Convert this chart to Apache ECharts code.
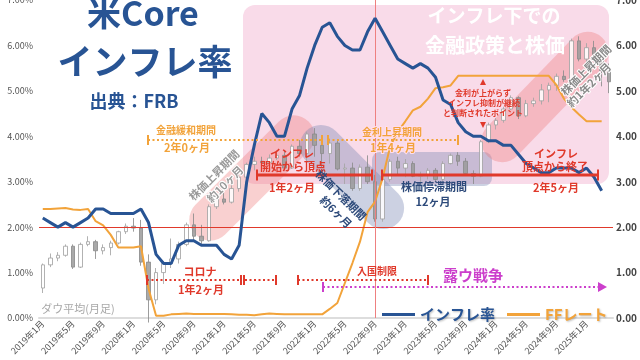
<!DOCTYPE html>
<html><head><meta charset="utf-8">
<script src="https://cdn.jsdelivr.net/npm/echarts@6/dist/echarts.min.js"></script>
<style>html,body{margin:0;padding:0;background:#fff}#c{width:640px;height:360px}</style>
</head><body><div id="c"></div>
<script>
// ---- categories (monthly, 2019年1月 .. 2025年4月) ----
const startYear = 2019, monthCount = 76;
const months = [];
for (let i = 0; i < monthCount; i++) {
  months.push((startYear + Math.floor(i / 12)) + '年' + (i % 12 + 1) + '月');
}
// ---- axis ticks ----
const yTicks = [0, 1, 2, 3, 4, 5, 6, 7];
// ---- US core inflation (%) ----
const inflation = [
  2.2, 2.1, 2.0, 2.1, 2.0, 2.1, 2.2, 2.4, 2.4, 2.3, 2.3, 2.3,
  2.3, 2.4, 2.1, 1.4, 1.2, 1.2, 1.6, 1.7, 1.7, 1.6, 1.6, 1.6,
  1.4, 1.3, 1.6, 3.0, 3.8, 4.5, 4.3, 4.0, 4.0, 4.6, 4.9, 5.5,
  6.0, 6.4, 6.5, 6.2, 6.0, 5.9, 5.9, 6.3, 6.6, 6.3, 6.0, 5.7,
  5.6, 5.5, 5.6, 5.5, 5.3, 4.8, 4.7, 4.3, 4.1, 4.0, 4.0, 3.9,
  3.9, 3.8, 3.8, 3.6, 3.4, 3.3, 3.2, 3.2, 3.3, 3.3, 3.3, 3.2,
  3.3, 3.1, 2.8
];
// ---- FF rate (%) ----
const ffRate = [
  2.40, 2.40, 2.41, 2.42, 2.39, 2.38, 2.40, 2.13, 2.04, 1.83, 1.55, 1.55,
  1.55, 1.58, 0.65, 0.05, 0.05, 0.08, 0.09, 0.10, 0.09, 0.09, 0.09, 0.09,
  0.09, 0.08, 0.07, 0.07, 0.06, 0.08, 0.10, 0.09, 0.08, 0.08, 0.08, 0.08,
  0.08, 0.08, 0.20, 0.33, 0.77, 1.21, 1.68, 2.33, 2.56, 3.08, 3.78, 4.10,
  4.33, 4.57, 4.65, 4.83, 5.06, 5.08, 5.12, 5.33, 5.33, 5.33, 5.33, 5.33,
  5.33, 5.33, 5.33, 5.33, 5.33, 5.33, 5.33, 5.33, 5.13, 4.83, 4.64, 4.48,
  4.33, 4.33, 4.33
];
// ---- Dow monthly candles, drawn on the chart's scale ----
const dowOpen = [
  0.66,1.17,1.32,1.38,1.58,1.12,1.62,1.68,1.48,1.55,1.65,1.90,
  2.02,1.98,1.23,0.40,1.00,1.20,1.30,1.62,2.05,1.80,1.70,2.45,
  2.62,2.55,2.85,3.10,3.38,3.45,3.42,3.52,3.58,3.30,3.78,3.62,
  4.05,3.80,3.62,3.85,3.28,3.30,2.85,3.32,3.00,2.18,3.05,3.45,
  3.30,3.40,3.12,3.15,3.25,3.05,3.40,3.58,3.45,3.18,3.12,3.88,
  4.25,4.35,4.60,4.85,4.45,4.72,4.78,5.02,5.12,5.32,5.25,6.10,
  5.70,5.95,5.80,5.45
];
const dowClose = [
  1.17,1.32,1.38,1.58,1.12,1.62,1.68,1.48,1.55,1.65,1.90,2.02,
  1.98,1.23,0.40,1.00,1.20,1.30,1.62,2.05,1.80,1.70,2.45,2.62,
  2.55,2.85,3.10,3.38,3.45,3.42,3.52,3.58,3.30,3.78,3.62,4.05,
  3.80,3.62,3.85,3.28,3.30,2.85,3.32,3.00,2.18,3.05,3.45,3.30,
  3.40,3.12,3.15,3.25,3.05,3.40,3.58,3.45,3.18,3.12,3.88,4.25,
  4.35,4.60,4.85,4.45,4.72,4.78,5.02,5.12,5.32,5.25,6.10,5.70,
  5.95,5.80,5.45,5.20
];
const dowLow = [
  0.55,1.12,1.25,1.35,1.08,1.10,1.58,1.30,1.40,1.38,1.62,1.85,
  1.90,1.15,-0.10,0.30,0.75,1.10,1.20,1.58,1.70,1.62,1.68,2.40,
  2.50,2.52,2.78,3.05,3.25,3.30,3.30,3.48,3.25,3.28,3.55,3.45,
  3.55,3.30,3.40,3.25,2.95,2.80,2.80,2.95,2.12,2.12,3.00,3.15,
  3.10,3.10,2.95,3.05,3.00,3.02,3.38,3.35,3.15,2.95,3.10,3.85,
  4.15,4.30,4.58,4.38,4.42,4.65,4.70,4.75,5.00,5.20,5.22,5.65,
  5.60,5.65,5.10,4.95
];
const dowHigh = [
  1.20,1.42,1.45,1.62,1.62,1.66,1.80,1.72,1.62,1.70,1.92,2.08,
  2.20,2.16,1.40,1.10,1.25,1.75,1.68,2.10,2.30,2.05,2.50,2.68,
  2.80,2.95,3.15,3.42,3.55,3.55,3.60,3.65,3.68,3.82,3.92,4.10,
  4.18,3.90,3.95,3.92,3.40,3.42,3.38,3.58,3.15,3.10,3.50,3.55,
  3.50,3.45,3.22,3.30,3.30,3.45,3.62,3.65,3.52,3.25,3.92,4.30,
  4.40,4.65,4.90,4.88,4.80,4.85,5.15,5.18,5.38,5.45,6.15,6.20,
  6.05,6.10,5.85,5.60
];

const F = '"Noto Sans CJK JP","Noto Sans",sans-serif';
const BLUE = '#285494', ORANGE = '#f2a33a', RED = '#e0392b', MAG = '#cc3fcc';

const candles = dowOpen.map((o, i) => [o, dowClose[i], dowLow[i], dowHigh[i]]);

function T(x, y, text, size, color, o) {
  o = o || {};
  return { type: 'text', x: x, y: y, rotation: (o.rot || 0) * Math.PI / 180, z: o.z || 100,
    style: { text: text, font: (o.weight || 'bold') + ' ' + size + 'px ' + F, fill: color,
      align: o.align || 'center', verticalAlign: 'middle',
      stroke: o.stroke || null, lineWidth: o.lw || 0,
      shadowColor: o.shadow || null, shadowBlur: o.blur || 0, shadowOffsetX: o.sx || 0, shadowOffsetY: o.sy || 0 } };
}
function L(x1, y1, x2, y2, color, w, dash, z) {
  return { type: 'line', z: z || 60, shape: { x1: x1, y1: y1, x2: x2, y2: y2 },
    style: { stroke: color, lineWidth: w, lineDash: dash || null } };
}
function band(cx, cy, len, w, rot, fill) {
  return { type: 'rect', x: cx, y: cy, rotation: rot * Math.PI / 180, z: 1,
    shape: { x: -len / 2, y: -w / 2, width: len, height: w, r: w / 2 }, style: { fill: fill } };
}
function cap(x, y, h, color, w) { return L(x, y - h / 2, x, y + h / 2, color, w, null, 61); }

const dots = [2, 2.5];
const graphics = [
  // pink region
  { type: 'rect', z: 0, shape: { x: 243, y: 5, width: 366, height: 179, r: 12 }, style: { fill: '#f9dbe9' } },
  // bands
  band(252, 178, 160, 42, 45, 'rgba(238,120,120,0.35)'),
  band(352, 177, 130, 42, -45, 'rgba(120,135,180,0.38)'),
  { type: 'rect', z: 1, shape: { x: 372, y: 152, width: 120, height: 34, r: 8 }, style: { fill: 'rgba(120,135,180,0.38)' } },
  band(545, 97, 165, 42, 46, 'rgba(238,120,120,0.35)'),

  // titles
  T(143, 13, '米Core', 34, BLUE),
  T(145, 62, 'インフレ率', 35, BLUE),
  T(134, 101, '出典：FRB', 18, BLUE),
  T(494, 16, 'インフレ下での', 19, '#ffffff', { shadow: 'rgba(0,0,0,0.75)', blur: 3, sx: 1, sy: 1 }),
  T(495, 45, '金融政策と株価', 20, '#ffffff', { shadow: 'rgba(0,0,0,0.75)', blur: 3, sx: 1, sy: 1 }),

  // band texts
  T(214, 175, '株価上昇期間', 11, '#9a9a9a', { rot: 45, stroke: '#fff', lw: 2 }),
  T(225, 184, '約10ヶ月', 11, '#9a9a9a', { rot: 45, stroke: '#fff', lw: 2 }),
  T(341, 195, '株価下落期間', 11, '#2d4a7a', { rot: -45 }),
  T(336, 212, '約6ヶ月', 11, '#2d4a7a', { rot: -45 }),
  T(434, 187, '株価停滞期間', 11, '#2d4a7a'),
  T(433, 202, '12ヶ月', 11, '#2d4a7a'),
  T(586, 70, '株価上昇期間', 11, '#8a8a8a', { rot: 45, stroke: '#fff', lw: 2 }),
  T(589, 85, '約1年2ヶ月', 11, '#8a8a8a', { rot: 45, stroke: '#fff', lw: 2 }),

  // orange dotted periods
  L(148, 140, 322, 140, ORANGE, 2, dots), cap(148, 140, 10, ORANGE, 2), cap(322, 140, 10, ORANGE, 2),
  L(328, 140, 458, 140, ORANGE, 2, dots), cap(328, 140, 10, ORANGE, 2), cap(458, 140, 10, ORANGE, 2),
  T(186, 130, '金融緩和期間', 10, ORANGE, { stroke: '#fff', lw: 2 }),
  T(187, 148, '2年0ヶ月', 11, ORANGE, { stroke: '#fff', lw: 2 }),
  T(392, 132, '金利上昇期間', 10, ORANGE, { stroke: '#fde', lw: 2 }),
  T(393, 148, '1年4ヶ月', 11, ORANGE, { stroke: '#fde', lw: 2 }),

  // red inflation periods
  L(257, 175, 372, 175, RED, 3), cap(257, 175, 11, RED, 2), cap(372, 175, 11, RED, 2),
  L(382, 175, 598, 175, RED, 3), cap(382, 175, 11, RED, 2), cap(598, 175, 11, RED, 2),
  T(292, 154, 'インフレ', 11, RED),
  T(293, 167, '開始から頂点', 11, RED),
  T(292, 188, '1年2ヶ月', 11, RED),
  T(556, 154, 'インフレ', 11, RED),
  T(555, 167, '頂点から終了', 11, RED),
  T(556, 188, '2年5ヶ月', 11, RED),

  // annotation point
  { type: 'polygon', z: 100, shape: { points: [[480, 85], [486, 85], [483, 79]] }, style: { fill: RED } },
  { type: 'polygon', z: 100, shape: { points: [[480, 122], [486, 122], [483, 128]] }, style: { fill: RED } },
  T(483, 93, '金利が上がらず', 8, RED),
  T(484, 103, 'インフレ抑制が継続', 8, RED),
  T(483, 113, 'と判断されたポイント', 8, RED),

  // covid / restrictions
  L(147, 280, 242, 280, RED, 2, dots), cap(147, 280, 10, RED, 2), cap(241, 280, 10, RED, 2), cap(244, 280, 10, RED, 2),
  L(245, 280, 276, 280, RED, 2, dots), cap(276, 280, 10, RED, 2),
  L(298, 280, 428, 280, RED, 2, dots), cap(298, 280, 10, RED, 2), cap(428, 280, 10, RED, 2),
  T(200, 272, 'コロナ', 11, RED),
  T(201, 290, '1年2ヶ月', 11, RED),
  T(377, 271, '入国制限', 10, RED),

  // war arrow
  L(323, 287, 601, 287, MAG, 2, dots), cap(323, 287, 10, MAG, 2),
  { type: 'polygon', z: 100, shape: { points: [[598, 282], [607, 287], [598, 292]] }, style: { fill: MAG } },
  T(473, 275, '露ウ戦争', 15, MAG),

  T(78, 309, 'ダウ平均(月足)', 11, '#a8a8a8', { weight: 'normal' })
];

const chart = echarts.init(document.getElementById('c'), null, { renderer: 'canvas' });
chart.setOption({
  animation: false,
  backgroundColor: '#ffffff',
  grid: { left: 39, right: 27, top: 0, bottom: 42, outerBoundsMode: 'none' },
  legend: {
    left: 377, top: 302, itemWidth: 33, itemHeight: 3, itemGap: 12, icon: 'rect',
    data: [
      { name: 'インフレ率', textStyle: { color: BLUE } },
      { name: 'FFレート', textStyle: { color: ORANGE } }
    ],
    textStyle: { fontSize: 15, fontWeight: 'bold', fontFamily: F, textShadowColor: 'rgba(0,0,0,0.25)', textShadowBlur: 2, textShadowOffsetX: 1, textShadowOffsetY: 1 }
  },
  xAxis: {
    type: 'category', data: months, boundaryGap: true,
    axisLine: { lineStyle: { color: '#dddddd', width: 2 } },
    axisTick: { show: false },
    axisLabel: { rotate: 45, interval: 3, fontSize: 9, color: '#555', fontFamily: F, margin: 4 }
  },
  yAxis: [
    { type: 'value', min: yTicks[0], max: yTicks[yTicks.length - 1], interval: 1, position: 'left',
      splitLine: { show: false }, axisLine: { show: false }, axisTick: { show: false },
      axisLabel: { fontSize: 9, color: '#555', fontFamily: F, margin: 6, formatter: v => v.toFixed(2) + '%' } },
    { type: 'value', min: yTicks[0], max: yTicks[yTicks.length - 1], interval: 1, position: 'right',
      splitLine: { show: false }, axisLine: { show: false }, axisTick: { show: false },
      axisLabel: { fontSize: 10, fontWeight: 'bold', color: '#444', fontFamily: F, margin: 3, formatter: v => v.toFixed(2) } }
  ],
  series: [
    { name: 'ダウ平均', type: 'candlestick', data: candles, barWidth: 4, z: 2,
      itemStyle: { color: '#ffffff', color0: '#9a9a9a', borderColor: '#a5a5a5', borderColor0: '#8c8c8c', borderWidth: 1, opacity: 0.85 } },
    { name: 'FFレート', type: 'line', data: ffRate, symbol: 'none', z: 4,
      lineStyle: { color: ORANGE, width: 2 }, itemStyle: { color: ORANGE } },
    { name: 'インフレ率', type: 'line', data: inflation, symbol: 'none', z: 5,
      lineStyle: { color: BLUE, width: 3 }, itemStyle: { color: BLUE },
      markLine: { silent: true, symbol: 'none', label: { show: false },
        data: [
          { yAxis: 2, lineStyle: { color: RED, width: 1, type: 'solid' } },
          { xAxis: 44, lineStyle: { color: '#ee8080', width: 1, type: 'solid' } }
        ] } }
  ],
  graphic: { elements: graphics }
});
</script></body></html>
